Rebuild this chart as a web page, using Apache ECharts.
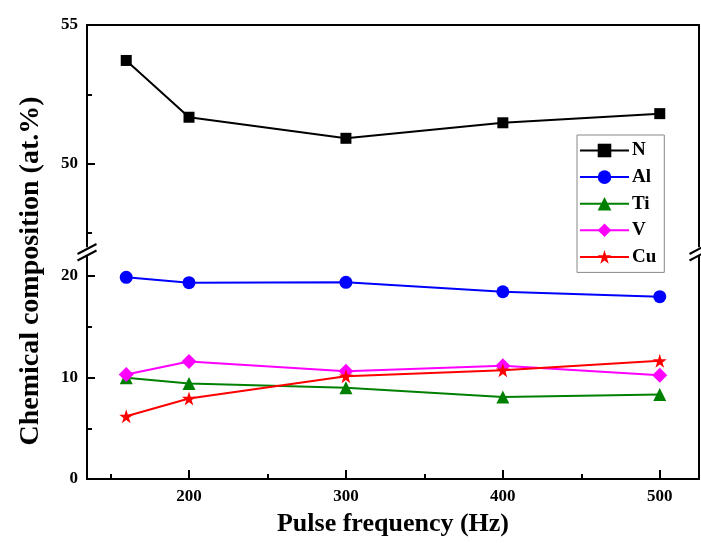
<!DOCTYPE html>
<html>
<head>
<meta charset="utf-8">
<script src="https://cdn.jsdelivr.net/npm/echarts@6/dist/echarts.min.js"></script>
<style>html,body{margin:0;padding:0;background:#fff}#c{width:701px;height:543px}</style>
</head>
<body>
<div id="c"></div>
<script>
const freq = [160, 200, 300, 400, 500];
const N  = [53.72, 51.67, 50.91, 51.47, 51.80];
const Al = [19.87, 19.34, 19.38, 18.45, 17.96];
const Ti = [9.97, 9.41, 8.98, 8.09, 8.32];
const V  = [10.30, 11.58, 10.62, 11.15, 10.23];
const Cu = [6.18, 7.93, 10.13, 10.72, 11.64];
const xMajor = [200, 300, 400, 500];
const xMinor = [150, 250, 350, 450];
const upMajor = [50, 55];
const upMinor = [47.5, 52.5];
const lowMajor = [0, 10, 20];
const lowMinor = [5, 15];
const xName = 'Pulse frequency (Hz)';
const yName = 'Chemical composition (at.%)';

const FONT = 'Liberation Serif, Times New Roman, serif';
const PL = 87, PR = 699, TOP = 25, UPB = 246.6, LOWT = 255.7, BOT = 479;
const W = 701, H = 543;
const XMIN = 135, XMAX = 525;
const lineS = {show: true, lineStyle: {color: '#000', width: 2}};
const lblS = {fontFamily: FONT, fontWeight: 'bold', fontSize: 17, color: '#000'};

function xd(vals){ return vals.map((v,i)=>[freq[i], v]); }

const chart = echarts.init(document.getElementById('c'), null, {renderer: 'canvas'});
function slash(cx, cy){
  return {type:'line', shape:{x1:cx-9.5, y1:cy+5, x2:cx+9.5, y2:cy-5}, style:{stroke:'#000', lineWidth:2}, z:100};
}
const option = {
  animation: false,
  backgroundColor: '#fff',
  grid: [
    {left: PL, right: W-PR, top: TOP, height: UPB-TOP},
    {left: PL, right: W-PR, top: LOWT, bottom: H-BOT}
  ],
  xAxis: [
    {gridIndex:0, type:'value', min:XMIN, max:XMAX, position:'top', axisLine:lineS, axisTick:{show:false}, axisLabel:{show:false}, splitLine:{show:false}},
    {gridIndex:1, type:'value', min:XMIN, max:XMAX, position:'bottom', axisLine:lineS,
      axisTick:{show:true, inside:true, length:9, lineStyle:{width:2,color:'#000'}, customValues:xMajor},
      axisLabel:Object.assign({show:true, margin:9, customValues:xMajor}, lblS), splitLine:{show:false}},
    {gridIndex:1, type:'value', min:XMIN, max:XMAX, position:'bottom', axisLine:{show:false},
      axisTick:{show:true, inside:true, length:5, lineStyle:{width:2,color:'#000'}, customValues:xMinor},
      axisLabel:{show:false}, splitLine:{show:false}}
  ],
  yAxis: [
    {gridIndex:0, type:'value', min:47, max:55, position:'left', axisLine:lineS,
      axisTick:{show:true, inside:true, length:8, lineStyle:{width:2,color:'#000'}, customValues:upMajor},
      axisLabel:Object.assign({show:true, margin:9, customValues:upMajor}, lblS), splitLine:{show:false}},
    {gridIndex:0, type:'value', min:47, max:55, position:'left', axisLine:{show:false},
      axisTick:{show:true, inside:true, length:5, lineStyle:{width:2,color:'#000'}, customValues:upMinor},
      axisLabel:{show:false}, splitLine:{show:false}},
    {gridIndex:0, type:'value', min:47, max:55, position:'right', axisLine:lineS, axisTick:{show:false}, axisLabel:{show:false}, splitLine:{show:false}},
    {gridIndex:1, type:'value', min:0, max:22, position:'left', axisLine:lineS,
      axisTick:{show:true, inside:true, length:8, lineStyle:{width:2,color:'#000'}, customValues:lowMajor},
      axisLabel:Object.assign({show:true, margin:9, customValues:lowMajor}, lblS), splitLine:{show:false}},
    {gridIndex:1, type:'value', min:0, max:22, position:'left', axisLine:{show:false},
      axisTick:{show:true, inside:true, length:5, lineStyle:{width:2,color:'#000'}, customValues:lowMinor},
      axisLabel:{show:false}, splitLine:{show:false}},
    {gridIndex:1, type:'value', min:0, max:22, position:'right', axisLine:lineS, axisTick:{show:false}, axisLabel:{show:false}, splitLine:{show:false}}
  ],
  legend: {
    orient:'vertical', left:577, top:135, padding:[6,8,6,2],
    itemWidth:49, itemHeight:17, itemGap:7.6,
    borderColor:'#888', borderWidth:1, backgroundColor:'#fff',
    textStyle:{fontFamily:FONT, fontWeight:'bold', fontSize:19, color:'#000', padding:[0,0,0,-2]},
    data:['N','Al','Ti','V','Cu']
  },
  series: [
    {name:'N', type:'line', xAxisIndex:0, yAxisIndex:0, data:xd(N), symbol:'rect', symbolSize:11, color:'#000', lineStyle:{width:2, color:'#000'}},
    {name:'Al', type:'line', xAxisIndex:1, yAxisIndex:3, data:xd(Al), symbol:'circle', symbolSize:13, color:'#0000ff', lineStyle:{width:2, color:'#0000ff'}},
    {name:'Ti', type:'line', xAxisIndex:1, yAxisIndex:3, data:xd(Ti), symbol:'triangle', symbolSize:13, color:'#008000', lineStyle:{width:2, color:'#008000'}},
    {name:'V', type:'line', xAxisIndex:1, yAxisIndex:3, data:xd(V), symbol:'diamond', symbolSize:15, color:'#ff00ff', lineStyle:{width:2, color:'#ff00ff'}},
    {name:'Cu', type:'line', xAxisIndex:1, yAxisIndex:3, data:xd(Cu), symbol:'path://M12,0 L14.7,8.3 L23.4,8.3 L16.4,13.4 L19.1,21.7 L12,16.6 L4.9,21.7 L7.6,13.4 L0.6,8.3 L9.3,8.3 Z', symbolSize:14, color:'#ff0000', lineStyle:{width:2, color:'#ff0000'}}
  ],
  graphic: [
    slash(PL, 249), slash(PL, 255.5), slash(PR, 249), slash(PR, 255.5),
    {type:'text', x:31, y:271, rotation:Math.PI/2, style:{text:yName, font:'bold 28px '+FONT, fill:'#000', textAlign:'center', textVerticalAlign:'middle'}},
    {type:'text', x:393, y:524, style:{text:xName, font:'bold 26px '+FONT, fill:'#000', textAlign:'center', textVerticalAlign:'middle'}}
  ]
};
chart.setOption(option);
</script>
</body>
</html>
